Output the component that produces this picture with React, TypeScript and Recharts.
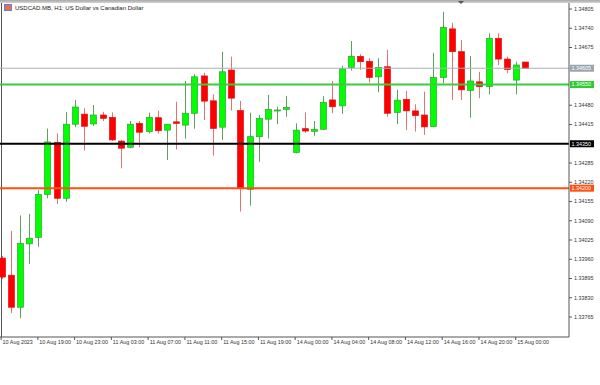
import React from 'react';
import { ComposedChart, Bar, XAxis, YAxis, ReferenceLine } from 'recharts';

// H1 bars, 10 Aug 15:00 .. 15 Aug 01:00
const times = [
  '10 Aug 15:00', '10 Aug 16:00', '10 Aug 17:00', '10 Aug 18:00', '10 Aug 19:00', '10 Aug 20:00',
  '10 Aug 21:00', '10 Aug 22:00', '10 Aug 23:00',
  '11 Aug 00:00', '11 Aug 01:00', '11 Aug 02:00', '11 Aug 03:00', '11 Aug 04:00', '11 Aug 05:00',
  '11 Aug 06:00', '11 Aug 07:00', '11 Aug 08:00', '11 Aug 09:00', '11 Aug 10:00', '11 Aug 11:00',
  '11 Aug 12:00', '11 Aug 13:00', '11 Aug 14:00', '11 Aug 15:00', '11 Aug 16:00', '11 Aug 17:00',
  '11 Aug 18:00', '11 Aug 19:00', '11 Aug 20:00', '11 Aug 21:00', '11 Aug 22:00',
  '14 Aug 00:00', '14 Aug 01:00', '14 Aug 02:00', '14 Aug 03:00', '14 Aug 04:00', '14 Aug 05:00',
  '14 Aug 06:00', '14 Aug 07:00', '14 Aug 08:00', '14 Aug 09:00', '14 Aug 10:00', '14 Aug 11:00',
  '14 Aug 12:00', '14 Aug 13:00', '14 Aug 14:00', '14 Aug 15:00', '14 Aug 16:00', '14 Aug 17:00',
  '14 Aug 18:00', '14 Aug 19:00', '14 Aug 20:00', '14 Aug 21:00', '14 Aug 22:00', '14 Aug 23:00',
  '15 Aug 00:00', '15 Aug 01:00',
];

const opens = [
  1.33964, 1.33906, 1.33798, 1.34012, 1.34034, 1.34179, 1.34355, 1.34166, 1.34416, 1.3445,
  1.34417, 1.34447, 1.34439, 1.34359, 1.34338, 1.34419, 1.34391, 1.34438, 1.34396, 1.34424,
  1.34413, 1.34453, 1.34579, 1.34495, 1.34406, 1.34599, 1.34462, 1.34196, 1.34374, 1.34433,
  1.34461, 1.34466, 1.34321, 1.34401, 1.34392, 1.34399, 1.34498, 1.34478, 1.34608, 1.34645,
  1.34628, 1.34576, 1.3461, 1.34456, 1.345, 1.34461, 1.34447, 1.34408, 1.34574, 1.34738,
  1.34661, 1.3453, 1.34559, 1.34543, 1.34706, 1.34636, 1.34565, 1.34626,
];
const highs = [
  1.33971, 1.34056, 1.34108, 1.34113, 1.34194, 1.34401, 1.34385, 1.34457, 1.34498, 1.3447,
  1.34481, 1.34458, 1.34456, 1.34363, 1.34427, 1.34427, 1.34455, 1.34462, 1.34416, 1.34492,
  1.34562, 1.34585, 1.3459, 1.34517, 1.34661, 1.34644, 1.34495, 1.34455, 1.34447, 1.34515,
  1.34475, 1.34511, 1.34419, 1.34456, 1.34427, 1.34511, 1.34562, 1.34613, 1.34697, 1.34653,
  1.34639, 1.34639, 1.34667, 1.34532, 1.34528, 1.34483, 1.34526, 1.34657, 1.34796, 1.34759,
  1.347, 1.34646, 1.34593, 1.34723, 1.34723, 1.34644, 1.34627, 1.34626,
];
const lows = [
  1.33893, 1.33778, 1.33761, 1.33944, 1.34002, 1.34166, 1.34147, 1.34154, 1.34406, 1.34327,
  1.3441, 1.34427, 1.34359, 1.34267, 1.34335, 1.34338, 1.34385, 1.34385, 1.34295, 1.34331,
  1.34367, 1.34401, 1.3443, 1.3431, 1.34363, 1.34462, 1.34121, 1.34141, 1.34289, 1.34368,
  1.34416, 1.34441, 1.34318, 1.34387, 1.34377, 1.34396, 1.34453, 1.34451, 1.34597, 1.346,
  1.34556, 1.34524, 1.34441, 1.34416, 1.34396, 1.34391, 1.3438, 1.34407, 1.34554, 1.34498,
  1.34498, 1.34438, 1.34504, 1.34517, 1.34616, 1.34588, 1.34517, 1.34603,
];
const closes = [
  1.339, 1.33798, 1.34014, 1.34031, 1.34179, 1.34356, 1.34166, 1.34416, 1.34474, 1.34409,
  1.34447, 1.34436, 1.34363, 1.34335, 1.34416, 1.34389, 1.34439, 1.34394, 1.34416, 1.34419,
  1.34453, 1.34576, 1.34494, 1.34402, 1.34593, 1.34504, 1.342, 1.34374, 1.34436, 1.34466,
  1.34464, 1.34473, 1.34396, 1.34393, 1.34399, 1.3449, 1.34475, 1.34603, 1.34645, 1.34627,
  1.34574, 1.34608, 1.34453, 1.34497, 1.34461, 1.34445, 1.34407, 1.34574, 1.34743, 1.34661,
  1.34532, 1.34562, 1.34543, 1.34706, 1.34636, 1.34601, 1.34616, 1.34605,
];

const tickLabels = [
  '10 Aug 2023', '10 Aug 19:00', '10 Aug 23:00', '11 Aug 03:00', '11 Aug 07:00', '11 Aug 11:00',
  '11 Aug 15:00', '11 Aug 19:00', '14 Aug 00:00', '14 Aug 04:00', '14 Aug 08:00', '14 Aug 12:00',
  '14 Aug 16:00', '14 Aug 20:00', '15 Aug 00:00',
];

// price scale labels (the ones under the coloured tags are left out)
const priceTicks = [
  1.33765, 1.3383, 1.33895, 1.3396, 1.34025, 1.3409, 1.34155, 1.3422, 1.34285, 1.34415,
  1.3448, 1.34675, 1.3474, 1.34805,
];

// bid, two support/resistance levels and one more below
const levelValues = [1.34605, 1.3455, 1.3435, 1.342];

const data = times.map((time, i) => ({
  time,
  open: opens[i],
  high: highs[i],
  low: lows[i],
  close: closes[i],
}));

const tickText: Record<string, string> = {};
tickLabels.forEach((t, k) => {
  tickText[times[k * 4]] = t;
});

const FONT = '"Liberation Sans", Arial, sans-serif';

const Candle = (props: any) => {
  const { x, y, width, height, payload } = props;
  const { open, close, high, low } = payload;
  const span = high - low || 1e-9;
  const toY = (v: number) => y + ((high - v) / span) * height;
  const up = close >= open;
  const cx = Math.round(x + width / 2) + 0.5;
  const top = toY(Math.max(open, close));
  const bot = toY(Math.min(open, close));
  const bodyH = Math.max(bot - top, 1);
  return (
    <g>
      <line x1={cx} x2={cx} y1={y} y2={y + height} stroke={up ? '#5f9e5f' : '#e07474'} strokeWidth={1} />
      <rect
        x={cx - 3}
        y={top}
        width={6}
        height={bodyH}
        fill={up ? '#00ff00' : '#ff0000'}
        stroke={up ? '#2aa52a' : '#e01010'}
        strokeWidth={0.7}
      />
    </g>
  );
};

const TimeTick = ({ x, y, payload }: any) => {
  const text = tickText[payload.value];
  if (!text) return null;
  return (
    <text x={x + 1.5} y={y} dy="0.71em" fontSize={5.4} fill="#333" fontFamily={FONT} textAnchor="start">
      {text}
    </text>
  );
};

const PriceTag = ({ viewBox, text, bg }: any) => {
  const { x, y, width } = viewBox;
  const lx = x + width + 1;
  return (
    <g>
      <rect x={lx} y={y - 3.5} width={24} height={7} fill={bg} />
      <text x={lx + 1.5} y={y} dy="0.355em" fontSize={5.4} fill="#fff" fontFamily={FONT}>
        {text}
      </text>
    </g>
  );
};

const levelStyles = [
  { stroke: '#a6b0bb', width: 1, bg: '#9ba5b0' },
  { stroke: '#3ccb3c', width: 2, bg: '#2fcc2f' },
  { stroke: '#000000', width: 2, bg: '#000000' },
  { stroke: '#ff5014', width: 2, bg: '#ff5014' },
];

export default function App() {
  return (
    <div style={{ position: 'absolute', left: 0, top: 0, width: 600, height: 385, background: '#fff', overflow: 'hidden' }}>
      <div
        style={{
          position: 'absolute', left: 0, top: 0, width: 600, height: 3,
          background: 'linear-gradient(#a8a8a8, #d4d4d4)',
        }}
      />
      <div
        style={{
          position: 'absolute', left: 458, top: 1, width: 0, height: 0,
          borderLeft: '3px solid transparent', borderRight: '3px solid transparent', borderTop: '3px solid #555',
        }}
      />
      <div style={{ position: 'absolute', left: 1, top: 3, width: 1, height: 334, background: '#555' }} />
      <div
        style={{
          position: 'absolute', left: 4, top: 4, width: 8, height: 7,
          background: '#f06a50', border: '1px solid #5b86d6', boxSizing: 'border-box',
        }}
      />
      <div
        style={{
          position: 'absolute', left: 15, top: 4, fontSize: 6, lineHeight: '8px',
          fontFamily: FONT, color: '#222', whiteSpace: 'nowrap',
        }}
      >
        USDCAD.MB, H1:  US Dollar vs Canadian Dollar
      </div>
      <div style={{ position: 'absolute', left: 0, top: 0 }}>
        <ComposedChart width={600} height={352} data={data} margin={{ top: 3, right: 0, bottom: 0, left: 0 }}>
          <XAxis
            dataKey="time"
            interval={3}
            tickSize={3}
            tickMargin={0}
            height={15}
            padding={{ left: -3.5, right: 39.5 }}
            axisLine={{ stroke: '#555' }}
            tickLine={{ stroke: '#555' }}
            tick={<TimeTick />}
          />
          <YAxis
            orientation="right"
            width={31}
            domain={[1.336975, 1.348253]}
            allowDataOverflow
            ticks={priceTicks}
            tickSize={3}
            tickMargin={2}
            tickFormatter={(v: number) => v.toFixed(5)}
            axisLine={{ stroke: '#555' }}
            tickLine={{ stroke: '#555' }}
            tick={{ fontSize: 5.4, fill: '#333', fontFamily: FONT }}
          />
          <Bar
            dataKey={(d: any) => [d.low, d.high]}
            barSize={6}
            shape={<Candle />}
            isAnimationActive={false}
          />
          {levelValues.map((v, i) => (
            <ReferenceLine
              key={v}
              y={v}
              stroke={levelStyles[i].stroke}
              strokeWidth={levelStyles[i].width}
              label={<PriceTag text={v.toFixed(5)} bg={levelStyles[i].bg} />}
            />
          ))}
        </ComposedChart>
      </div>
    </div>
  );
}
